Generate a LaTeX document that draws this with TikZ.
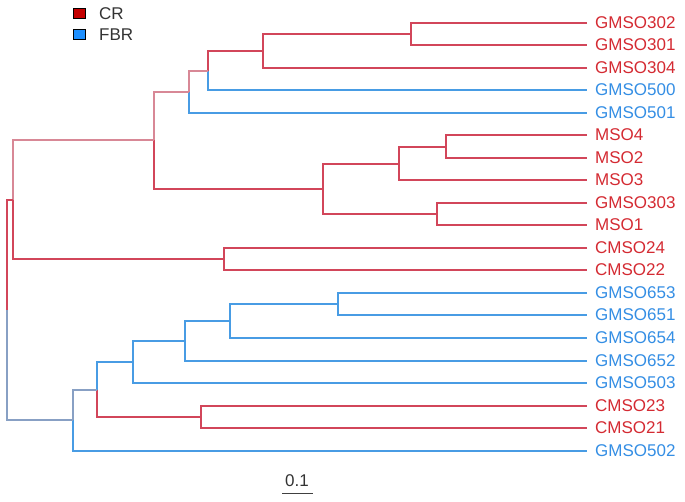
\documentclass[tikz,border=0pt]{standalone}
\usepackage{fontspec}
\setmainfont{Liberation Sans}
\usepackage{tikz}

\definecolor{cr}{RGB}{212,42,50}
\definecolor{fbr}{RGB}{52,142,228}
\definecolor{crline}{RGB}{210,70,90}
\definecolor{fbrline}{RGB}{72,156,228}
\definecolor{mixcr}{RGB}{216,136,150}
\definecolor{mixfbr}{RGB}{136,160,196}
\definecolor{crkey}{RGB}{196,0,0}
\definecolor{fbrkey}{RGB}{30,144,255}

\tikzset{
  leaf/.style={anchor=west, inner xsep=8pt, inner ysep=0pt, font=\fontsize{17}{20}\selectfont},
  branch/.style={line width=1.5pt},
  keybox/.style={draw=black, line width=0.6pt, minimum width=12pt, minimum height=10pt, inner sep=0pt},
}

\begin{document}
\begin{tikzpicture}[x=1pt, y=-1pt]
    \useasboundingbox (0,0) rectangle (685,501);
    \def \tipx {587}
    \def \top {22.6}
    \def \gap {22.53} % distance between leaves

    % leaves
    \foreach \i/\lab/\col in {1/GMSO302/cr, 2/GMSO301/cr, 3/GMSO304/cr, 4/GMSO500/fbr,
      5/GMSO501/fbr, 6/MSO4/cr, 7/MSO2/cr, 8/MSO3/cr, 9/GMSO303/cr, 10/MSO1/cr,
      11/CMSO24/cr, 12/CMSO22/cr, 13/GMSO653/fbr, 14/GMSO651/fbr, 15/GMSO654/fbr,
      16/GMSO652/fbr, 17/GMSO503/fbr, 18/CMSO23/cr, 19/CMSO21/cr, 20/GMSO502/fbr}
    {
      \node[leaf, text=\col] (l\i) at (\tipx, {round(\top + \gap*(\i-1))}) {\lab};
    }

    % inner nodes
    \coordinate (A) at (411, 34);
    \coordinate (B) at (263, 51);
    \coordinate (C) at (208, 71);
    \coordinate (D) at (189, 92);
    \coordinate (E) at (446, 147);
    \coordinate (F) at (399, 164);
    \coordinate (G) at (437, 214);
    \coordinate (H) at (323, 189);
    \coordinate (I) at (154, 140);
    \coordinate (J) at (224, 259);
    \coordinate (K) at (13, 200);
    \coordinate (L) at (338, 304);
    \coordinate (M) at (230, 321);
    \coordinate (N) at (185, 341);
    \coordinate (O) at (133, 362);
    \coordinate (P) at (201, 417);
    \coordinate (Q) at (97, 390);
    \coordinate (R) at (73, 420);
    \coordinate (root) at (7, 310);

    % CR group
    \draw[branch, crline] (l1.west) -| (A) |- (l2.west);
    \draw[branch, crline] (A) -| (B) |- (l3.west);
    \draw[branch, crline] (C) |- (B);
    \draw[branch, fbrline] (C) |- (l4.west);
    \draw[branch, mixcr] (D) |- (C);
    \draw[branch, fbrline] (D) |- (l5.west);
    \draw[branch, crline] (l6.west) -| (E) |- (l7.west);
    \draw[branch, crline] (E) -| (F) |- (l8.west);
    \draw[branch, crline] (l9.west) -| (G) |- (l10.west);
    \draw[branch, crline] (F) -| (H) |- (G);
    \draw[branch, mixcr] (I) |- (D);
    \draw[branch, crline] (I) |- (H);
    \draw[branch, crline] (l11.west) -| (J) |- (l12.west);
    \draw[branch, mixcr] (K) |- (I);
    \draw[branch, crline] (K) |- (J);

    % FBR group
    \draw[branch, fbrline] (l13.west) -| (L) |- (l14.west);
    \draw[branch, fbrline] (L) -| (M) |- (l15.west);
    \draw[branch, fbrline] (M) -| (N) |- (l16.west);
    \draw[branch, fbrline] (N) -| (O) |- (l17.west);
    \draw[branch, crline] (l18.west) -| (P) |- (l19.west);
    \draw[branch, fbrline] (Q) |- (O);
    \draw[branch, crline] (Q) |- (P);
    \draw[branch, mixfbr] (R) |- (Q);
    \draw[branch, fbrline] (R) |- (l20.west);

    % root
    \draw[branch, crline] (root) |- (K);
    \draw[branch, mixfbr] (root) |- (R);

    % key
    \node[keybox, fill=crkey] (kcr) at (79.5, 13.3) {};
    \node[keybox, fill=fbrkey] (kfbr) at (79.5, 34.2) {};
    \node[anchor=west, inner sep=0pt, font=\fontsize{17}{20}\selectfont, text=black!80] (tcr) at (99, 13.3) {CR};
    \node[anchor=west, inner sep=0pt, font=\fontsize{17}{20}\selectfont, text=black!80] (tfbr) at (99, 34.2) {FBR};

    % scale
    \node[inner sep=0pt, font=\fontsize{17}{20}\selectfont, text=black!80] (sc) at (297, 481) {0.1};
    \coordinate (sb1) at (282, 493);
    \coordinate (sb2) at (313, 493);
    \draw[line width=0.8pt, black!75] (sb1) -- (sb2);
\end{tikzpicture}
\end{document}
